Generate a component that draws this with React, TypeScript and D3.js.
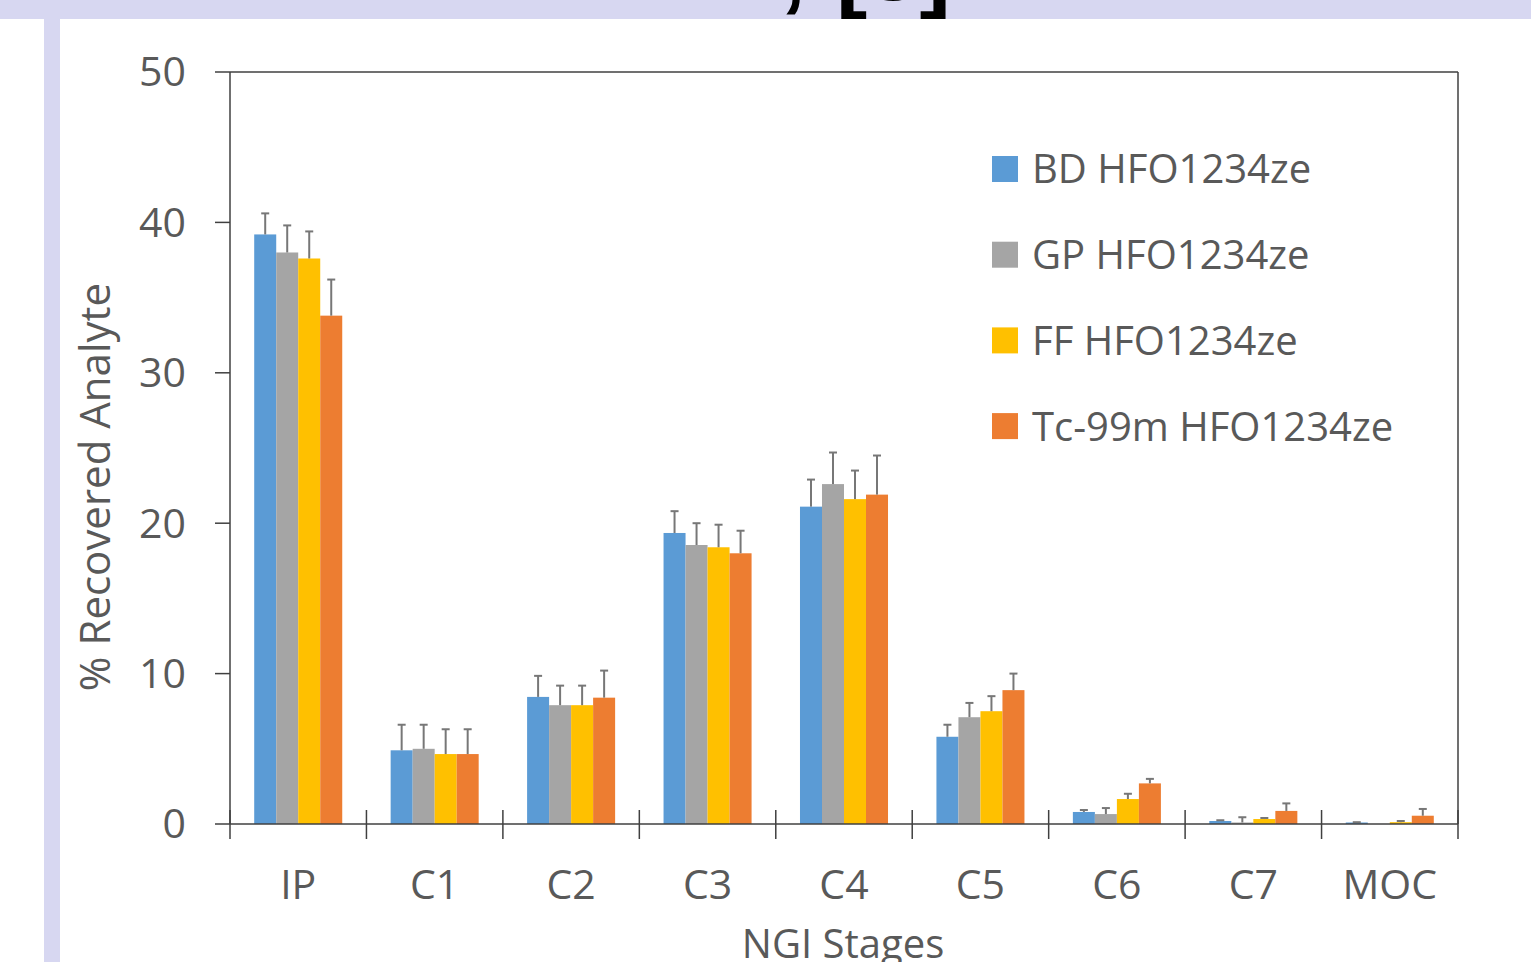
import React from 'react';
import * as d3 from 'd3';

// NGI stages on the x axis
const categories = ['IP', 'C1', 'C2', 'C3', 'C4', 'C5', 'C6', 'C7', 'MOC'];
const seriesNames = ['BD HFO1234ze', 'GP HFO1234ze', 'FF HFO1234ze', 'Tc-99m HFO1234ze'];
const seriesColors = ['#5b9bd5', '#a5a5a5', '#ffc000', '#ed7d31'];

// % recovered analyte, one array per formulation
const bdValues = [39.2, 4.9, 8.45, 19.35, 21.1, 5.8, 0.8, 0.2, 0.1];
const gpValues = [38.0, 5.0, 7.9, 18.55, 22.6, 7.1, 0.66, 0.1, 0.0];
const ffValues = [37.6, 4.65, 7.9, 18.4, 21.6, 7.5, 1.66, 0.33, 0.12];
const tcValues = [33.8, 4.65, 8.4, 18.0, 21.9, 8.9, 2.7, 0.87, 0.55];

// upper error bars (SD)
const bdErrors = [1.4, 1.7, 1.4, 1.45, 1.8, 0.8, 0.13, 0.05, 0.02];
const gpErrors = [1.8, 1.6, 1.3, 1.45, 2.1, 0.95, 0.4, 0.35, 0];
const ffErrors = [1.8, 1.65, 1.3, 1.5, 1.9, 1.0, 0.35, 0.07, 0.08];
const tcErrors = [2.4, 1.65, 1.8, 1.5, 2.6, 1.1, 0.3, 0.5, 0.45];

const yTicks = [0, 10, 20, 30, 40, 50];

const values = [bdValues, gpValues, ffValues, tcValues];
const errors = [bdErrors, gpErrors, ffErrors, tcErrors];

const App = () => {
  const width = 1531;
  const height = 962;
  const left = 230;
  const right = 1458;
  const top = 72;
  const bottom = 824;

  const x0 = d3.scaleBand<string>().domain(categories).range([left, right]).padding(0);
  const x1 = d3
    .scaleBand<string>()
    .domain(seriesNames)
    .range([0, x0.bandwidth()])
    .paddingInner(0)
    .paddingOuter(1.1);
  const y = d3.scaleLinear().domain([0, 50]).range([bottom, top]);

  const textColor = '#595959';
  const axisColor = '#404040';
  const font = '"Open Sans", sans-serif';

  const boundaries = categories.map((c) => x0(c)!).concat([right]);

  return (
    <svg
      width={width}
      height={height}
      style={{ position: 'absolute', left: 0, top: 0, background: '#fff' }}
    >
      <defs>
        <clipPath id="band">
          <rect x={0} y={0} width={width} height={19} />
        </clipPath>
      </defs>
      {/* page background strips */}
      <rect x={0} y={0} width={width} height={19} fill="#d7d7f1" />
      <rect x={44} y={19} width={16} height={height - 19} fill="#d7d7f1" />
      <g clipPath="url(#band)" fontFamily='"Liberation Sans", sans-serif' fontWeight="bold" fontSize={94} fill="#000">
        <text x={780} y={0}>,</text>
        <text x={836} y={0}>[3]</text>
      </g>

      {/* bars */}
      {seriesNames.map((s, si) => (
        <g key={s} fill={seriesColors[si]}>
          {categories.map((c, ci) => (
            <rect
              key={c}
              x={x0(c)! + x1(s)!}
              y={y(values[si][ci])}
              width={x1.bandwidth()}
              height={y(0) - y(values[si][ci])}
            />
          ))}
        </g>
      ))}

      {/* error bars */}
      {seriesNames.map((s, si) => (
        <g key={s} stroke="#777" strokeWidth={2}>
          {categories.map((c, ci) => {
            if (errors[si][ci] <= 0) return null;
            const cx = x0(c)! + x1(s)! + x1.bandwidth() / 2;
            const y1 = y(values[si][ci]);
            const y2 = y(values[si][ci] + errors[si][ci]);
            return (
              <g key={c}>
                <line x1={cx} x2={cx} y1={y1} y2={y2} />
                <line x1={cx - 4} x2={cx + 4} y1={y2} y2={y2} />
              </g>
            );
          })}
        </g>
      ))}

      {/* plot frame and axes */}
      <g stroke={axisColor} strokeWidth={1.5} fill="none">
        <line x1={left} x2={right} y1={top} y2={top} />
        <line x1={right} x2={right} y1={top} y2={bottom} />
        <line x1={left} x2={left} y1={top} y2={bottom} />
        <line x1={left} x2={right} y1={bottom} y2={bottom} />
        {yTicks.map((t) => (
          <line key={t} x1={left - 15} x2={left} y1={y(t)} y2={y(t)} />
        ))}
        {boundaries.map((b, i) => (
          <line key={i} x1={b} x2={b} y1={bottom - 14} y2={bottom + 15} />
        ))}
      </g>

      {/* y tick labels */}
      <g fontFamily={font} fontSize={41} fill={textColor} textAnchor="end">
        {yTicks.map((t) => (
          <text key={t} x={186} y={y(t)} dy="0.35em">
            {t}
          </text>
        ))}
      </g>

      {/* x tick labels */}
      <g fontFamily={font} fontSize={41} fill={textColor} textAnchor="middle">
        {categories.map((c) => (
          <text key={c} x={x0(c)! + x0.bandwidth() / 2} y={899}>
            {c}
          </text>
        ))}
      </g>

      {/* axis titles */}
      <text
        x={843}
        y={958}
        fontFamily={font}
        fontSize={40}
        fill={textColor}
        textAnchor="middle"
      >
        NGI Stages
      </text>
      <text
        transform="translate(110,487) rotate(-90)"
        fontFamily={font}
        fontSize={42}
        fill={textColor}
        textAnchor="middle"
      >
        % Recovered Analyte
      </text>

      {/* legend */}
      <g fontFamily={font} fontSize={40} fill={textColor}>
        {seriesNames.map((s, i) => {
          const cy = 169 + i * 85.7;
          return (
            <g key={s}>
              <rect x={992} y={cy - 13} width={26} height={26} fill={seriesColors[i]} />
              <text x={1032} y={cy} dy="0.36em">
                {s}
              </text>
            </g>
          );
        })}
      </g>
    </svg>
  );
};

export default App;
